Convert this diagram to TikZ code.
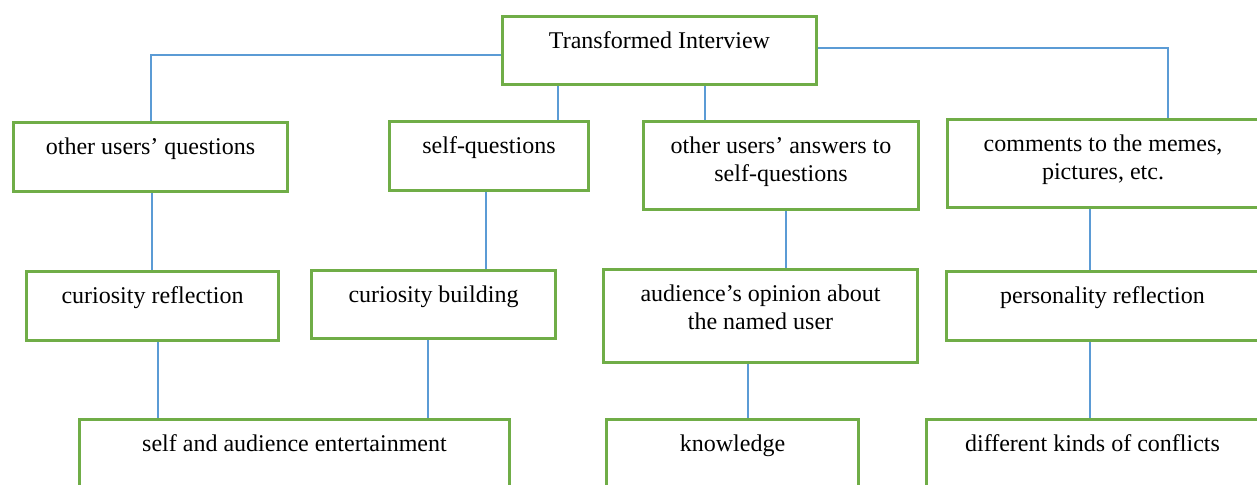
\documentclass[tikz,border=0pt]{standalone}
\usepackage{fontspec}
\setmainfont{Liberation Serif}
\usetikzlibrary{calc}
\definecolor{boxGreen}{RGB}{112,173,71}
\definecolor{linkBlue}{RGB}{91,155,213}

\begin{document}
\begin{tikzpicture}[x=0.5pt,y=-0.5pt,
  box/.style={draw=boxGreen,line width=1.5pt,anchor=north west,align=flush center,
    inner xsep=0pt,inner ysep=7pt,text height=9pt,
    font=\fontsize{12}{14}\selectfont},
  link/.style={draw=linkBlue,line width=0.6pt}]
  \useasboundingbox (0,0) rectangle (1257,484);
  \clip (0,0) rectangle (1257,484);

  % root
  \node[box,text width=157pt,text depth=11pt] (root) at (501,15) {Transformed Interview};

  % sources
  \node[box,text width=137pt,text depth=11.5pt] (oq) at (12,121) {other users’ questions};
  \node[box,text width=99.5pt,text depth=11.5pt] (sq) at (388,120) {self-questions};
  \node[box,text width=137.5pt,text depth=21pt] (oa) at (642,120) {other users’ answers to\\self-questions};
  \node[box,text width=155.5pt,text depth=21pt] (cm) at (946,118) {comments to the memes,\\pictures, etc.};

  % functions
  \node[box,text width=126pt,text depth=11.5pt] (cr) at (25,270) {curiosity reflection};
  \node[box,text width=122pt,text depth=11pt] (cb) at (310,269) {curiosity building};
  \node[box,text width=157pt,text depth=23.5pt] (ao) at (602,268) {audience’s opinion about\\the named user};
  \node[box,text width=156pt,text depth=11.5pt] (pr) at (945,270) {personality reflection};

  % effects
  \node[box,text width=215pt,text depth=18pt] (ent) at (78,418) {self and audience entertainment};
  \node[box,text width=126pt,text depth=18pt] (kn) at (605,418) {knowledge};
  \node[box,text width=166pt,text depth=18pt] (cf) at (925,418) {different kinds of conflicts};

  \draw[link] (root.west |- 0,55) -| (oq.north -| 151,0);
  \draw[link] (root.east |- 0,48) -| (cm.north -| 1168,0);
  \foreach \u/\v/\x in {root/sq/558,root/oa/705,oq/cr/152,sq/cb/486,oa/ao/786,
    cm/pr/1090,cr/ent/158,cb/ent/428,ao/kn/748,pr/cf/1090}
    \draw[link] (\u.south -| \x,0) -- (\v.north -| \x,0);
\end{tikzpicture}
\end{document}
